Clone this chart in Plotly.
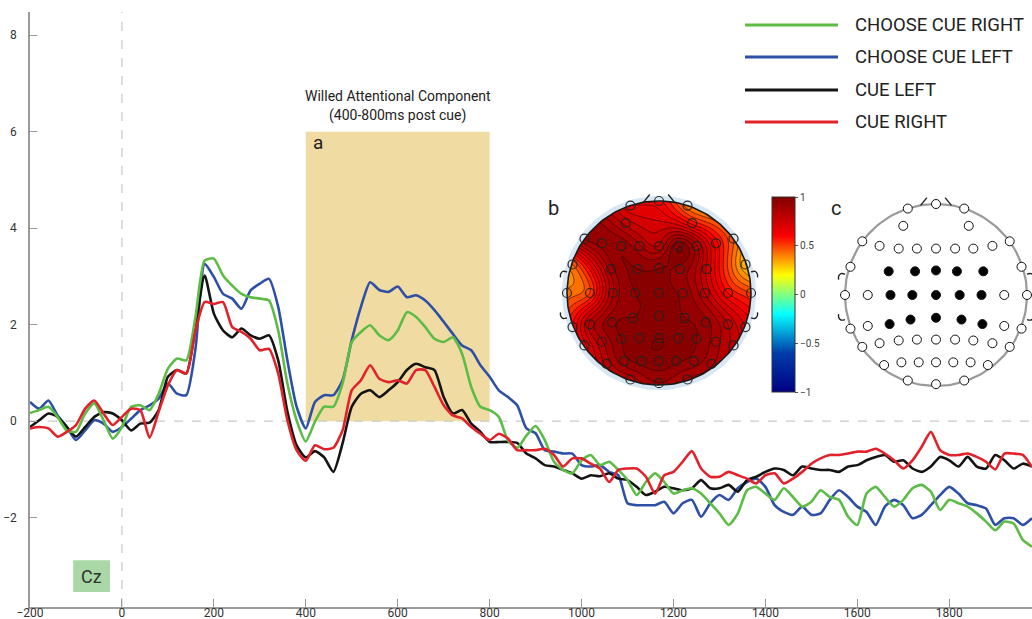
import numpy as np
import plotly.graph_objects as go

# ---------------- data ----------------
times = list(range(-200, 1981, 20))
series_names = ["CHOOSE CUE RIGHT", "CHOOSE CUE LEFT", "CUE LEFT", "CUE RIGHT"]
series_colors = ["#5cbc45", "#2e4fa6", "#141414", "#e2222b"]

choose_cue_right = [
    0.17, 0.23, 0.30, 0.09, -0.19, -0.22, 0.16, 0.37, 0.02, -0.36,
    -0.12, 0.30, 0.33, 0.23, 0.57, 1.09, 1.30, 1.26, 2.16, 3.33,
    3.37, 3.02, 2.81, 2.64, 2.57, 2.54, 2.50, 1.88, 0.78, 0.02,
    -0.42, -0.01, 0.30, 0.30, 0.78, 1.64, 1.85, 1.99, 1.78, 1.68,
    1.88, 2.26, 2.16, 1.95, 1.71, 1.64, 1.74, 1.40, 0.71, 0.30,
    0.23, 0.09, -0.40, -0.55, -0.30, -0.10, -0.39, -0.84, -1.01, -1.08,
    -0.81, -0.70, -0.91, -0.84, -1.01, -1.22, -1.53, -1.26, -1.08, -1.26,
    -1.50, -1.43, -1.39, -1.50, -1.70, -1.91, -2.15, -1.91, -1.43, -1.36,
    -1.50, -1.63, -1.39, -1.57, -1.77, -1.67, -1.43, -1.57, -1.63, -1.98,
    -2.15, -1.50, -1.36, -1.57, -1.77, -1.63, -1.39, -1.32, -1.46, -1.84,
    -1.63, -1.70, -1.77, -1.91, -2.08, -2.26, -2.08, -2.12, -2.46, -2.60,
]
choose_cue_left = [
    0.40, 0.26, 0.43, 0.12, -0.12, -0.39, -0.19, 0.02, -0.05, -0.22,
    -0.12, 0.05, 0.23, 0.33, 0.47, 0.78, 0.57, 0.54, 1.50, 3.26,
    2.99, 2.64, 2.54, 2.33, 2.71, 2.85, 2.95, 2.37, 1.26, 0.30,
    -0.15, 0.40, 0.54, 0.54, 0.85, 1.68, 2.37, 2.88, 2.72, 2.68,
    2.79, 2.57, 2.61, 2.50, 2.30, 2.06, 1.81, 1.57, 1.47, 1.16,
    0.92, 0.64, 0.50, 0.33, -0.15, -0.25, -0.60, -0.63, -0.67, -0.67,
    -0.91, -0.94, -0.91, -1.05, -1.12, -1.70, -1.74, -1.74, -1.74, -1.67,
    -1.91, -1.70, -1.63, -1.98, -1.70, -1.53, -1.63, -1.39, -1.26, -1.19,
    -1.36, -1.74, -1.88, -1.94, -1.77, -1.94, -1.91, -1.63, -1.43, -1.57,
    -1.77, -1.88, -2.15, -1.77, -1.63, -1.74, -2.01, -1.94, -1.74, -1.53,
    -1.36, -1.50, -1.70, -1.74, -1.81, -2.15, -2.01, -2.01, -2.15, -2.01,
]
cue_left = [
    -0.12, 0.02, 0.16, 0.09, -0.12, -0.32, -0.12, 0.09, 0.19, 0.16,
    0.02, -0.19, -0.05, -0.03, 0.23, 0.92, 1.06, 0.99, 1.95, 3.02,
    2.23, 1.88, 1.74, 1.92, 1.78, 1.71, 1.78, 1.26, 0.20, -0.50,
    -0.75, -0.62, -0.75, -1.05, -0.46, 0.30, 0.57, 0.64, 0.50, 0.64,
    0.81, 1.06, 1.19, 1.12, 1.06, 0.50, 0.16, 0.23, -0.05, -0.22,
    -0.43, -0.43, -0.43, -0.45, -0.67, -0.77, -0.91, -0.94, -1.01, -1.08,
    -1.19, -1.12, -1.14, -1.08, -1.19, -1.22, -1.36, -1.53, -1.46, -1.36,
    -1.39, -1.43, -1.39, -1.22, -1.39, -1.39, -1.32, -1.46, -1.22, -1.15,
    -1.05, -0.98, -1.01, -1.12, -0.94, -0.98, -1.01, -1.01, -1.05, -0.94,
    -0.91, -0.81, -0.74, -0.70, -0.84, -0.81, -0.98, -1.05, -0.94, -0.74,
    -0.81, -0.94, -0.74, -0.94, -0.98, -0.70, -0.81, -0.98, -0.88, -0.94,
]
cue_right = [
    -0.15, -0.12, -0.15, -0.32, -0.22, -0.08, 0.26, 0.43, 0.16, -0.08,
    0.09, 0.26, 0.23, -0.34, 0.20, 0.74, 1.06, 0.99, 1.88, 2.47,
    2.43, 2.47, 1.95, 1.85, 1.71, 1.47, 1.50, 0.99, 0.02, -0.60,
    -0.82, -0.50, -0.58, -0.55, -0.19, 0.64, 0.85, 1.16, 0.88, 0.81,
    0.85, 0.78, 1.06, 1.06, 0.71, 0.33, 0.12, 0.06, -0.12, -0.26,
    -0.39, -0.26, -0.36, -0.60, -0.60, -0.60, -0.57, -0.70, -0.94, -0.77,
    -0.77, -0.88, -0.98, -1.26, -1.01, -0.98, -0.98, -1.15, -1.50, -1.12,
    -1.05, -0.84, -0.62, -0.98, -1.15, -1.15, -1.05, -1.12, -1.19, -1.29,
    -1.12, -1.08, -1.29, -1.19, -1.05, -0.88, -0.77, -0.70, -0.70, -0.67,
    -0.63, -0.63, -0.57, -0.67, -0.81, -0.98, -0.81, -0.53, -0.22, -0.60,
    -0.70, -0.70, -0.67, -0.74, -0.84, -1.00, -0.67, -0.67, -0.70, -0.95,
]

x_ticks = list(range(-200, 1801, 200))
y_ticks = [-2, 0, 2, 4, 6, 8]
colorbar_ticks = [-1, -0.5, 0, 0.5, 1]

# electrode layout (unit head circle) and topography values (map b)
electrode_x = [
    -0.31, 0.00, 0.31,
    -0.36, 0.36,
    -0.81, -0.62, -0.41, -0.21, 0.00, 0.21, 0.41, 0.62, 0.81,
    -0.94, -0.52, -0.23, 0.00, 0.23, 0.52, 0.94,
    -1.00, -0.75, -0.50, -0.26, 0.00, 0.26, 0.50, 0.75, 1.00,
    -0.94, -0.75, -0.51, -0.28, 0.00, 0.28, 0.51, 0.75, 0.94,
    -0.81, -0.62, -0.41, -0.21, 0.00, 0.21, 0.41, 0.62, 0.81,
    -0.57, -0.38, -0.19, 0.00, 0.19, 0.38, 0.57,
    -0.31, 0.00, 0.31,
]
electrode_y = [
    0.95, 1.00, 0.95,
    0.76, 0.76,
    0.59, 0.54, 0.51, 0.51, 0.51, 0.51, 0.51, 0.54, 0.59,
    0.31, 0.26, 0.26, 0.27, 0.26, 0.26, 0.31,
    0.00, 0.00, 0.00, 0.00, 0.00, 0.00, 0.00, 0.00, 0.00,
    -0.37, -0.34, -0.32, -0.27, -0.25, -0.27, -0.32, -0.34, -0.37,
    -0.57, -0.53, -0.50, -0.49, -0.49, -0.49, -0.50, -0.53, -0.57,
    -0.77, -0.74, -0.74, -0.74, -0.74, -0.74, -0.77,
    -0.94, -0.98, -0.94,
]
topo_values = [
    0.66, 0.62, 0.42,
    0.78, 0.58,
    0.90, 0.92, 0.94, 0.86, 0.80, 1.00, 0.86, 0.62, 0.45,
    0.45, 0.88, 0.95, 0.95, 0.93, 0.74, 0.30,
    0.42, 0.50, 0.85, 0.95, 0.95, 0.94, 0.80, 0.60, 0.50,
    0.60, 0.82, 0.94, 0.95, 0.96, 0.95, 0.92, 0.80, 0.70,
    0.68, 0.84, 0.95, 0.98, 1.00, 0.98, 0.95, 0.87, 0.78,
    0.82, 0.93, 0.97, 0.98, 0.96, 0.93, 0.86,
    0.82, 0.90, 0.84,
]
selected_electrodes = [
    0, 0, 0,
    0, 0,
    0, 0, 0, 0, 0, 0, 0, 0, 0,
    0, 1, 1, 1, 1, 1, 0,
    0, 0, 1, 1, 1, 1, 1, 0, 0,
    0, 0, 1, 1, 1, 1, 1, 0, 0,
    0, 0, 0, 0, 0, 0, 0, 0, 0,
    0, 0, 0, 0, 0, 0, 0,
    0, 0, 0,
]

# ---------------- layout helpers ----------------
W, H = 1032, 619
ML, MR, MT, MB = 30, 0, 12, 12
PW, PH = W - ML - MR, H - MT - MB
FONT = "Roboto"


def fx(p):
    return (p - ML) / PW


def fy(p):
    return (H - MB - p) / PH


fig = go.Figure()

# ---------------- waveforms ----------------
series = [choose_cue_right, choose_cue_left, cue_left, cue_right]
for i in [1, 2, 0, 3]:
    fig.add_trace(go.Scatter(
        x=times, y=series[i], mode="lines", name=series_names[i],
        line=dict(color=series_colors[i], width=2.6, shape="spline", smoothing=0.6),
        hoverinfo="skip", showlegend=False))

# ---------------- topography b (thin-plate spline surface through electrode values) ----------------
ex = np.array(electrode_x)
ey = np.array(electrode_y)
ev = np.array(topo_values)
n = len(ev)


def tps_kernel(r):
    with np.errstate(divide="ignore", invalid="ignore"):
        k = r ** 2 * np.log(r)
    return np.nan_to_num(k)


rij = np.hypot(ex[:, None] - ex[None, :], ey[:, None] - ey[None, :])
Pm = np.column_stack([np.ones(n), ex, ey])
A = np.block([[tps_kernel(rij) + 0.001 * np.eye(n), Pm], [Pm.T, np.zeros((3, 3))]])
coef = np.linalg.solve(A, np.concatenate([ev, np.zeros(3)]))
g = np.linspace(-1.03, 1.03, 141)
GX, GY = np.meshgrid(g, g)
rg = np.hypot(GX[..., None] - ex, GY[..., None] - ey)
Z = tps_kernel(rg) @ coef[:n] + coef[n] + coef[n + 1] * GX + coef[n + 2] * GY

fig.add_trace(go.Contour(
    x=g, y=g, z=Z, xaxis="x2", yaxis="y2", colorscale="Jet", zmin=-1, zmax=1,
    autocontour=False, contours=dict(start=-1, end=1, size=0.05, coloring="fill"),
    line=dict(color="rgba(30,0,0,0.7)", width=0.8), hoverinfo="skip", showscale=False))

# continuous colour bar for the map
fig.add_trace(go.Scatter(
    x=[0, 0], y=[0, 0], mode="markers", xaxis="x2", yaxis="y2", hoverinfo="skip",
    showlegend=False,
    marker=dict(size=0.1, opacity=0, color=[-1, 1], cmin=-1, cmax=1, colorscale="Jet",
                showscale=True,
                colorbar=dict(x=fx(772), xanchor="left", y=fy(294.5), yanchor="middle",
                              len=195 / PH, lenmode="fraction", thickness=23,
                              thicknessmode="pixels", xpad=0, ypad=0, outlinecolor="#333",
                              outlinewidth=1, tickvals=colorbar_ticks, ticks="outside",
                              ticklen=3, tickcolor="#555",
                              tickfont=dict(family=FONT, size=10, color="#444")))))

theta = np.linspace(0, 2 * np.pi, 181)
ctheta, stheta = np.cos(theta), np.sin(theta)
R = 1.3
mask_x = [R, R, -R, -R, R, R] + list(ctheta[::-1]) + [R]
mask_y = [0, R, R, -R, -R, 0] + list(stheta[::-1]) + [0]


def head_parts(xa, ya, color, width):
    # nose
    for sgn in (-1, 1):
        fig.add_trace(go.Scatter(x=[sgn * 0.17, sgn * 0.10], y=[0.985, 1.07], mode="lines",
                                 line=dict(color=color, width=width), xaxis=xa, yaxis=ya,
                                 hoverinfo="skip", showlegend=False))
    # ears
    for sgn in (-1, 1):
        for yy, dy in ((0.20, 1), (-0.24, -1)):
            fig.add_trace(go.Scatter(
                x=[sgn * 1.0, sgn * 1.045, sgn * 1.07, sgn * 1.07],
                y=[yy + dy * 0.03, yy + dy * 0.035, yy + dy * 0.005, yy - dy * 0.03],
                mode="lines", line=dict(color=color, width=width, shape="spline"),
                xaxis=xa, yaxis=ya, hoverinfo="skip", showlegend=False))


fig.add_trace(go.Scatter(x=mask_x, y=mask_y, fill="toself", fillcolor="white", mode="lines",
                         line=dict(width=0, color="white"), xaxis="x2", yaxis="y2",
                         hoverinfo="skip", showlegend=False))
fig.add_trace(go.Scatter(x=1.03 * ctheta, y=1.03 * stheta, mode="lines",
                         line=dict(color="#d8e7f4", width=5), xaxis="x2", yaxis="y2",
                         hoverinfo="skip", showlegend=False))
fig.add_trace(go.Scatter(x=ctheta, y=stheta, mode="lines",
                         line=dict(color="#1a1a1a", width=1.6), xaxis="x2", yaxis="y2",
                         hoverinfo="skip", showlegend=False))
head_parts("x2", "y2", "#222", 1.4)
fig.add_trace(go.Scatter(x=electrode_x, y=electrode_y, mode="markers", xaxis="x2", yaxis="y2",
                         marker=dict(symbol="circle-open", size=9, color="rgba(35,35,35,0.95)",
                                     line=dict(width=1.2)),
                         hoverinfo="skip", showlegend=False, cliponaxis=False))

# ---------------- electrode map c ----------------
fig.add_trace(go.Scatter(x=ctheta, y=stheta, mode="lines",
                         line=dict(color="#9a9a9a", width=2.2), xaxis="x3", yaxis="y3",
                         hoverinfo="skip", showlegend=False))
head_parts("x3", "y3", "#222", 1.4)
fig.add_trace(go.Scatter(
    x=electrode_x, y=electrode_y, mode="markers", xaxis="x3", yaxis="y3",
    marker=dict(size=9, color=["#000" if s else "#fff" for s in selected_electrodes],
                line=dict(color="#111", width=1)),
    hoverinfo="skip", showlegend=False, cliponaxis=False))

# ---------------- shapes ----------------
shapes = [
    dict(type="rect", xref="x", yref="y", x0=400, x1=800, y0=0, y1=6,
         fillcolor="#f0dca3", line=dict(width=0), layer="below"),
    dict(type="rect", xref="x", yref="y", x0=-106, x1=-26, y0=-3.54, y1=-2.88,
         fillcolor="#a9d8a6", line=dict(width=0), layer="below"),
    dict(type="line", xref="x", yref="y", x0=0, x1=0, y0=-3.85, y1=8.48,
         line=dict(color="#c9c9c9", width=1.2, dash="dash"), layer="below"),
    dict(type="line", xref="x", yref="y", x0=-200, x1=1980, y0=0, y1=0,
         line=dict(color="#c3cdc3", width=1.2, dash="dash"), layer="below"),
]
legend_rows = [25, 57, 90, 122]
annotations = []
for i, row in enumerate(legend_rows):
    shapes.append(dict(type="line", xref="paper", yref="paper", x0=fx(745), x1=fx(838),
                       y0=fy(row), y1=fy(row), line=dict(color=series_colors[i], width=3)))
    annotations.append(dict(xref="paper", yref="paper", x=fx(853), y=fy(row), text=series_names[i],
                            showarrow=False, xanchor="left", yanchor="middle",
                            font=dict(family=FONT, size=18.5, color="#222")))

annotations += [
    dict(xref="x", yref="y", x=600, y=6.74, text="Willed Attentional Component", showarrow=False,
         font=dict(family=FONT, size=14, color="#222"), yanchor="middle"),
    dict(xref="x", yref="y", x=600, y=6.34, text="(400-800ms post cue)", showarrow=False,
         font=dict(family=FONT, size=14, color="#222"), yanchor="middle"),
    dict(xref="x", yref="y", x=412, y=5.78, text="a", showarrow=False, xanchor="left",
         font=dict(family=FONT, size=19, color="#222"), yanchor="middle"),
    dict(xref="x", yref="y", x=-66, y=-3.21, text="Cz", showarrow=False,
         font=dict(family=FONT, size=18, color="#333"), yanchor="middle"),
    dict(xref="paper", yref="paper", x=fx(553), y=fy(208), text="b", showarrow=False,
         font=dict(family=FONT, size=20, color="#222"), yanchor="middle"),
    dict(xref="paper", yref="paper", x=fx(843), y=fy(208), text="c", showarrow=False,
         font=dict(family=FONT, size=20, color="#222"), yanchor="middle"),
]

axis_font = dict(family=FONT, size=12, color="#333")
fig.update_layout(
    width=W, height=H, margin=dict(l=ML, r=MR, t=MT, b=MB, autoexpand=False),
    paper_bgcolor="white", plot_bgcolor="rgba(0,0,0,0)", showlegend=False,
    shapes=shapes, annotations=annotations,
    xaxis=dict(range=[-200, 1980], tickvals=x_ticks, ticks="inside", ticklen=8,
               tickcolor="#999", showline=True, linecolor="#9a9a9a", linewidth=1.5,
               showgrid=False, zeroline=False, tickfont=axis_font, automargin=False,
               ticklabelstandoff=-6),
    yaxis=dict(range=[-3.85, 8.48], tickvals=y_ticks, ticks="inside", ticklen=7,
               tickcolor="#999", showline=True, linecolor="#9a9a9a", linewidth=1.5,
               showgrid=False, zeroline=False, tickfont=axis_font, ticklabelstandoff=9,
               automargin=False),
    xaxis2=dict(domain=[fx(559), fx(759)], range=[-1.087, 1.087], visible=False, anchor="y2"),
    yaxis2=dict(domain=[fy(393), fy(193)], range=[-1.087, 1.087], visible=False, anchor="x2"),
    xaxis3=dict(domain=[fx(836), 1.0], range=[-1.099, (W - 936) / 91.0], visible=False, anchor="y3"),
    yaxis3=dict(domain=[fy(395), fy(195)], range=[-1.099, 1.099], visible=False, anchor="x3"),
)

fig.write_html("out.html", config={"displayModeBar": False},
               post_script="document.body.style.margin='0px';document.body.style.overflow='hidden';")
